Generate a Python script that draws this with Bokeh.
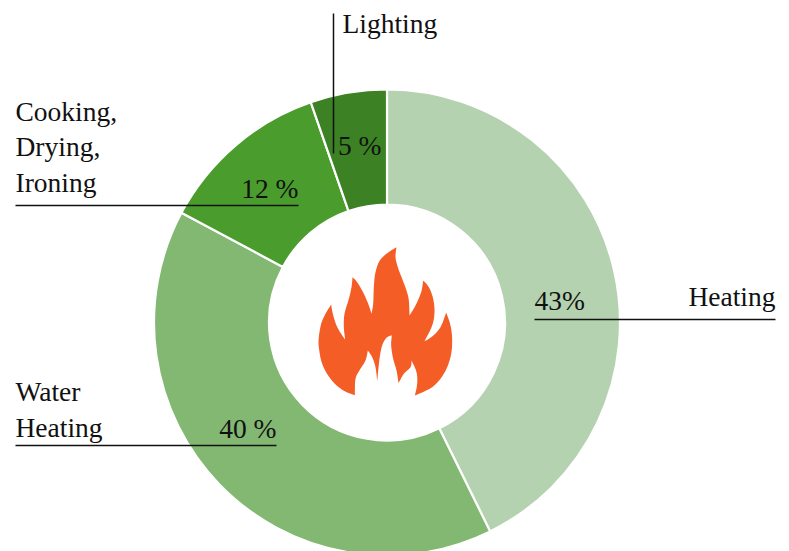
import math
from bokeh.plotting import figure
from bokeh.models import Range1d
from bokeh.core.properties import value
from bokeh.embed import file_html
from bokeh.resources import INLINE

categories = ["Heating", "Water Heating", "Cooking, Drying, Ironing", "Lighting"]
shares = [42.7, 40.1, 11.9, 5.3]
share_labels = ["43%", "40 %", "12 %", "5 %"]
colors = ["#B5D2B0", "#82B872", "#4A9C2D", "#3C8224"]

CX, CY = 386.5, 322.0
W, H = 789, 551
FONT = "Liberation Sans Narrow"
FS = "27.5px"
BASE = 9

def X(px):
    return px - CX

def Y(py):
    return CY - py

p = figure(width=W, height=H, output_backend="svg", toolbar_location=None,
           x_range=Range1d(X(0), X(W)), y_range=Range1d(Y(H), Y(0)),
           min_border=0, outline_line_color=None, background_fill_color="white")
p.axis.visible = False
p.grid.visible = False

cum = 0.0
for s, c in zip(shares, colors):
    a0 = math.pi / 2 - cum / 100 * 2 * math.pi
    cum += s
    a1 = math.pi / 2 - cum / 100 * 2 * math.pi
    p.annular_wedge(x=[0], y=[0], inner_radius=118, outer_radius=233,
                    start_angle=a0, end_angle=a1, direction="clock",
                    fill_color=c, line_color="white", line_width=2.2)

flame = [(163,494),(125,478),(90,445),(65,400),(55,350),(55,320),(62,280),(75,250),(92,222),(97,250),
         (108,285),(122,310),(134,327),(130,290),(132,250),(145,205),(153,170),(156,140),(170,155),(190,190),
         (205,225),(213,250),(218,220),(220,170),(224,130),(235,95),(255,72),(288,50),(285,80),(292,110),
         (305,145),(318,180),(325,210),(327,255),(345,225),(362,185),(368,150),(385,170),(398,205),(402,245),
         (395,285),(372,332),(395,318),(420,290),(437,246),(450,285),(455,330),(450,380),(430,430),(395,470),
         (343,495),(350,460),(348,425),(333,390),(330,410),(310,430),(294,458),(288,420),(278,385),(272,345),
         (274,314),(258,322),(245,345),(237,385),(230,452),(225,410),(215,380),(202,360),(195,390),(178,418),(165,445)]
corners = {(163,494),(92,222),(134,327),(156,140),(213,250),(288,50),(327,255),(368,150),(372,332),(437,246),
           (343,495),(333,390),(294,458),(274,314),(230,452),(202,360)}

def smooth(pts, corner_set, n=6):
    out = []
    m = len(pts)
    for i in range(m):
        p0, p1, p2, p3 = pts[i - 1], pts[i], pts[(i + 1) % m], pts[(i + 2) % m]
        if p1 in corner_set:
            p0 = p1
        if p2 in corner_set:
            p3 = p2
        for k in range(n):
            t = k / n
            out.append(tuple(0.5 * (2 * p1[d] + (p2[d] - p0[d]) * t
                                    + (2 * p0[d] - 5 * p1[d] + 4 * p2[d] - p3[d]) * t * t
                                    + (3 * p1[d] - p0[d] - 3 * p2[d] + p3[d]) * t ** 3) for d in (0, 1)))
    return out

outline = smooth(flame, corners)
p.patch([X(300 + a / 3) for a, b in outline], [Y(230 + b / 3) for a, b in outline],
        fill_color="#F55D26", line_color=None)

leaders = [((534, 775), (319, 319)), ((15, 276), (445, 445)), ((15, 298), (205, 205)), ((333, 333), (13, 153))]
for xs, ys in leaders:
    p.line([X(v) for v in xs], [Y(v) for v in ys], line_color="#111111", line_width=1.5)

texts = [("Lighting", 342, 32, "left"), ("Cooking,", 15, 120, "left"), ("Drying,", 15, 155, "left"),
         ("Ironing", 15, 191, "left"), ("Water", 15, 400, "left"), ("Heating", 15, 436, "left"),
         ("Heating", 775, 305, "right"), (share_labels[0], 534, 309, "left"), (share_labels[1], 276, 437, "right"),
         (share_labels[2], 298, 197, "right"), (share_labels[3], 381, 154, "right")]
for t, x, y, al in texts:
    p.text(x=[X(x)], y=[Y(y - BASE)], text=[t], text_font=value(FONT), text_font_size=value(FS),
           text_color="#111111", text_align=al, text_baseline="alphabetic")

open("out.html", "w").write(file_html(p, INLINE))
